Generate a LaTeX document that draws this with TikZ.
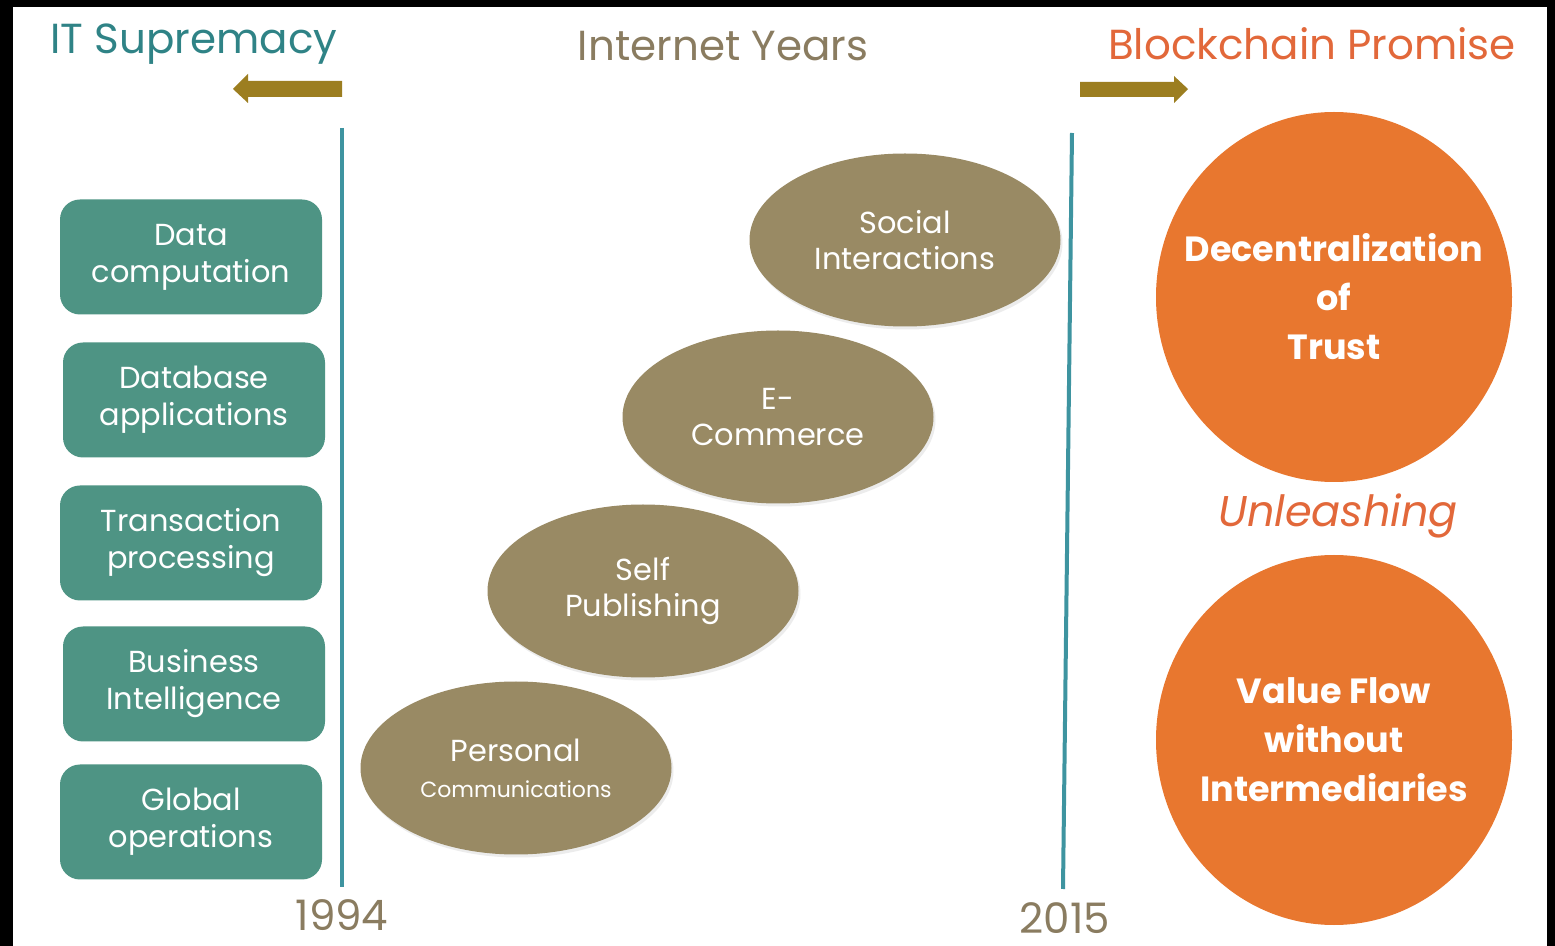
\documentclass[tikz,border=0pt]{standalone}
\usepackage{fontspec}
\setmainfont{Poppins}
\usetikzlibrary{shapes.geometric,shadows}

\definecolor{titleteal}{HTML}{2F8386}
\definecolor{boxteal}{HTML}{4E9484}
\definecolor{lineteal}{HTML}{3E94A0}
\definecolor{webkhaki}{HTML}{998A64}
\definecolor{greybrown}{HTML}{8A7C60}
\definecolor{arrowgold}{HTML}{9C7E20}
\definecolor{trustorange}{HTML}{E8772F}
\definecolor{promiseorange}{HTML}{E2683A}

\begin{document}
\begin{tikzpicture}[x=0.5pt, y=-0.5pt,
  every node/.style={align=center, inner sep=0pt},
  titletext/.style={font=\fontsize{21}{25}\selectfont},
  itbox/.style={fill=boxteal, text=white, rounded corners=10pt,
    minimum width=131pt, minimum height=57.5pt,
    font=\fontsize{15.2}{18.5}\selectfont},
  webnode/.style={ellipse, fill=webkhaki, text=white,
    minimum width=155.5pt, minimum height=86.5pt,
    font=\fontsize{15.2}{18}\selectfont,
    drop shadow={opacity=0.15, shadow xshift=1pt, shadow yshift=-1.5pt}},
  disc/.style={ellipse, fill=trustorange, minimum width=178pt, minimum height=185pt},
  disctext/.style={text=white, font=\bfseries\fontsize{17.5}{24.5}\selectfont},
  timeline/.style={draw=lineteal, line width=2pt},
  yeartext/.style={text=greybrown, font=\fontsize{21}{25}\selectfont}]

% frame
\fill[black] (0,0) rectangle (1555,946);
\fill[white] (13,7) rectangle (1547,946);

% Titles
\node[titletext, text=titleteal] (itsup) at (194,44) {IT Supremacy};
\node[titletext, text=greybrown] (netyears) at (723,46) {Internet Years};
\node[titletext, text=promiseorange] (promise) at (1312,44) {Blockchain Promise};

% Arrows
\fill[arrowgold] (342,81) -- (248,81) -- (248,74) -- (233,89) -- (248,103)
  -- (248,97) -- (342,97) -- cycle;
\fill[arrowgold] (1080,82) -- (1174,82) -- (1174,76) -- (1188,89) -- (1174,103)
  -- (1174,97) -- (1080,97) -- cycle;

% Time lines
\coordinate (startTop) at (342,128);
\coordinate (startBot) at (342,887);
\coordinate (endTop) at (1072,133);
\coordinate (endBot) at (1063,889);
\draw[timeline] (startTop) -- (startBot);
\draw[timeline] (endTop) -- (endBot);
\node[yeartext] (y1994) at (342,915) {1994};
\node[yeartext] (y2015) at (1065,918) {2015};

% IT boxes
\node[itbox] (datacomp) at (191,257) {Data\\computation};
\node[itbox] (dbapps) at (194,400) {Database\\applications};
\node[itbox] (transproc) at (191,543) {Transaction\\processing};
\node[itbox] (bizintel) at (194,684) {Business\\Intelligence};
\node[itbox] (globalops) at (191,822) {Global\\operations};

% Internet ellipses
\node[webnode] (social) at (905,240) {Social\\Interactions};
\node[webnode] (ecom) at (778,417) {E-\\Commerce};
\node[webnode] (selfpub) at (643,591) {Self\\Publishing};
\node[webnode] (personal) at (516,768) {Personal\\{\fontsize{11}{14.5}\selectfont Communications}};

% Blockchain discs
\node[disc] (trust) at (1334,297) {};
\node[disctext] at (trust) {Decentralization\\of\\Trust};
\node[text=promiseorange, font=\itshape\fontsize{21.5}{26}\selectfont] (unleash) at (1338,516) {Unleashing};
\node[disc] (valueflow) at (1334,740) {};
\node[disctext] at (valueflow) {Value Flow\\without\\Intermediaries};
\end{tikzpicture}
\end{document}
